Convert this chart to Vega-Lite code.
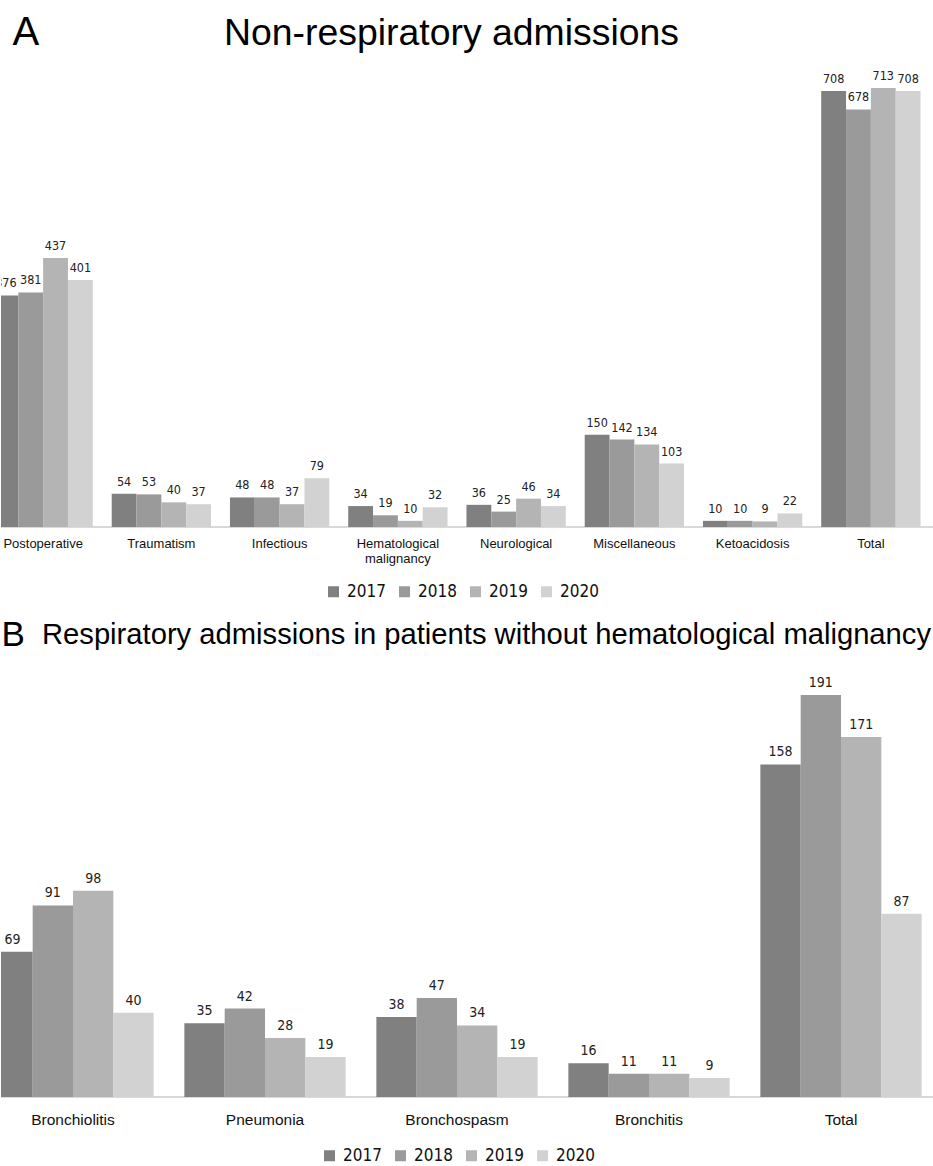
{
  "$schema": "https://vega.github.io/schema/vega-lite/v6.json",
  "background": "white",
  "padding": {"top": 12, "left": 0, "right": 0, "bottom": 0},
  "bounds": "flush",
  "spacing": 149,
  "config": {
    "view": {"stroke": null},
    "axis": {"grid": false},
    "legend": {
      "orient": "none",
      "direction": "horizontal",
      "title": null,
      "labelFont": "DejaVu Sans Condensed, sans-serif",
      "labelFontSize": 17,
      "labelColor": "#111111",
      "symbolType": "square",
      "symbolSize": 121,
      "symbolStrokeWidth": 0,
      "labelOffset": 5,
      "columnPadding": 10
    }
  },
  "datasets": {
    "nonresp": [
      {"category": "Postoperative", "year": "2017", "value": 376},
      {"category": "Postoperative", "year": "2018", "value": 381},
      {"category": "Postoperative", "year": "2019", "value": 437},
      {"category": "Postoperative", "year": "2020", "value": 401},
      {"category": "Traumatism", "year": "2017", "value": 54},
      {"category": "Traumatism", "year": "2018", "value": 53},
      {"category": "Traumatism", "year": "2019", "value": 40},
      {"category": "Traumatism", "year": "2020", "value": 37},
      {"category": "Infectious", "year": "2017", "value": 48},
      {"category": "Infectious", "year": "2018", "value": 48},
      {"category": "Infectious", "year": "2019", "value": 37},
      {"category": "Infectious", "year": "2020", "value": 79},
      {"category": "Hematological malignancy", "year": "2017", "value": 34},
      {"category": "Hematological malignancy", "year": "2018", "value": 19},
      {"category": "Hematological malignancy", "year": "2019", "value": 10},
      {"category": "Hematological malignancy", "year": "2020", "value": 32},
      {"category": "Neurological", "year": "2017", "value": 36},
      {"category": "Neurological", "year": "2018", "value": 25},
      {"category": "Neurological", "year": "2019", "value": 46},
      {"category": "Neurological", "year": "2020", "value": 34},
      {"category": "Miscellaneous", "year": "2017", "value": 150},
      {"category": "Miscellaneous", "year": "2018", "value": 142},
      {"category": "Miscellaneous", "year": "2019", "value": 134},
      {"category": "Miscellaneous", "year": "2020", "value": 103},
      {"category": "Ketoacidosis", "year": "2017", "value": 10},
      {"category": "Ketoacidosis", "year": "2018", "value": 10},
      {"category": "Ketoacidosis", "year": "2019", "value": 9},
      {"category": "Ketoacidosis", "year": "2020", "value": 22},
      {"category": "Total", "year": "2017", "value": 708},
      {"category": "Total", "year": "2018", "value": 678},
      {"category": "Total", "year": "2019", "value": 713},
      {"category": "Total", "year": "2020", "value": 708}
    ],
    "resp": [
      {"category": "Bronchiolitis", "year": "2017", "value": 69},
      {"category": "Bronchiolitis", "year": "2018", "value": 91},
      {"category": "Bronchiolitis", "year": "2019", "value": 98},
      {"category": "Bronchiolitis", "year": "2020", "value": 40},
      {"category": "Pneumonia", "year": "2017", "value": 35},
      {"category": "Pneumonia", "year": "2018", "value": 42},
      {"category": "Pneumonia", "year": "2019", "value": 28},
      {"category": "Pneumonia", "year": "2020", "value": 19},
      {"category": "Bronchospasm", "year": "2017", "value": 38},
      {"category": "Bronchospasm", "year": "2018", "value": 47},
      {"category": "Bronchospasm", "year": "2019", "value": 34},
      {"category": "Bronchospasm", "year": "2020", "value": 19},
      {"category": "Bronchitis", "year": "2017", "value": 16},
      {"category": "Bronchitis", "year": "2018", "value": 11},
      {"category": "Bronchitis", "year": "2019", "value": 11},
      {"category": "Bronchitis", "year": "2020", "value": 9},
      {"category": "Total", "year": "2017", "value": 158},
      {"category": "Total", "year": "2018", "value": 191},
      {"category": "Total", "year": "2019", "value": 171},
      {"category": "Total", "year": "2020", "value": 87}
    ]
  },
  "resolve": {"scale": {"x": "independent", "y": "independent", "xOffset": "independent", "color": "independent"}},
  "vconcat": [
    {
      "width": 933,
      "height": 468,
      "data": {"name": "nonresp"},
      "layer": [
        {
          "mark": {"type": "rule", "color": "#d9d9d9", "strokeWidth": 1.5},
          "encoding": {"y": {"datum": 0, "type": "quantitative", "scale": {"domain": [0, 760], "nice": false}}}
        },
        {
          "mark": {"type": "bar", "clip": true},
          "encoding": {
            "x": {
              "field": "category", "type": "nominal", "sort": null,
              "scale": {"range": [-17, 929], "paddingInner": 0.16, "paddingOuter": 0.08},
              "axis": {
                "labelAngle": 0, "ticks": false, "domain": false,
                "labelFont": "Liberation Sans", "labelFontSize": 13, "labelColor": "#111111",
                "labelPadding": 10, "labelBaseline": "top", "labelLineHeight": 15,
                "labelExpr": "datum.label == 'Hematological malignancy' ? ['Hematological', 'malignancy'] : datum.label",
                "title": "Non-respiratory admissions",
                "titleFont": "Liberation Sans", "titleFontSize": 37.4, "titleFontWeight": "normal", "titleColor": "#000000",
                "titleX": 450, "titleY": -483, "titleAlign": "center", "titleBaseline": "alphabetic", "titleAnchor": null
              }
            },
            "xOffset": {"field": "year", "type": "nominal", "scale": {"paddingInner": 0}},
            "y": {
              "field": "value", "type": "quantitative", "scale": {"domain": [0, 760], "nice": false},
              "axis": {
                "labels": false, "ticks": false, "domain": false,
                "title": "A", "titleAngle": 0, "titleAlign": "left", "titleBaseline": "alphabetic",
                "titleX": 11, "titleY": -15, "titleFont": "Liberation Sans", "titleFontSize": 40,
                "titleFontWeight": "normal", "titleColor": "#000000"
              }
            },
            "color": {
              "field": "year", "type": "nominal",
              "scale": {"domain": ["2017", "2018", "2019", "2020"], "range": ["#808080", "#9a9a9a", "#b4b4b4", "#d2d2d2"]},
              "legend": {"legendX": 324, "legendY": 524}
            }
          }
        },
        {
          "mark": {"type": "text", "clip": true, "baseline": "alphabetic", "dy": -8, "font": "DejaVu Sans Condensed, sans-serif", "fontSize": 12.5, "color": "#222222"},
          "encoding": {
            "x": {"field": "category", "type": "nominal", "sort": null},
            "xOffset": {"field": "year", "type": "nominal"},
            "y": {"field": "value", "type": "quantitative"},
            "text": {"field": "value", "type": "quantitative"}
          }
        }
      ]
    },
    {
      "width": 933,
      "height": 421,
      "data": {"name": "resp"},
      "layer": [
        {
          "mark": {"type": "rule", "color": "#d9d9d9", "strokeWidth": 1.5},
          "encoding": {"y": {"datum": 0, "type": "quantitative", "scale": {"domain": [0, 200], "nice": false}}}
        },
        {
          "mark": {"type": "bar", "clip": true},
          "encoding": {
            "x": {
              "field": "category", "type": "nominal", "sort": null,
              "scale": {"range": [-24, 936], "paddingInner": 0.16, "paddingOuter": 0.08},
              "axis": {
                "labelAngle": 0, "ticks": false, "domain": false,
                "labelFont": "Liberation Sans", "labelFontSize": 15.5, "labelColor": "#111111",
                "labelPadding": 15, "labelBaseline": "top",
                "title": "Respiratory admissions in patients without hematological malignancy",
                "titleFont": "Liberation Sans", "titleFontSize": 29.2, "titleFontWeight": "normal", "titleColor": "#000000",
                "titleX": 485, "titleY": -454, "titleAlign": "center", "titleBaseline": "alphabetic", "titleAnchor": null
              }
            },
            "xOffset": {"field": "year", "type": "nominal", "scale": {"paddingInner": 0}},
            "y": {
              "field": "value", "type": "quantitative", "scale": {"domain": [0, 200], "nice": false},
              "axis": {
                "labels": false, "ticks": false, "domain": false,
                "title": "B", "titleAngle": 0, "titleAlign": "left", "titleBaseline": "alphabetic",
                "titleX": 0, "titleY": -31, "titleFont": "Liberation Sans", "titleFontSize": 35,
                "titleFontWeight": "normal", "titleColor": "#000000"
              }
            },
            "color": {
              "field": "year", "type": "nominal",
              "scale": {"domain": ["2017", "2018", "2019", "2020"], "range": ["#808080", "#9a9a9a", "#b4b4b4", "#d2d2d2"]},
              "legend": {"legendX": 320, "legendY": 471}
            }
          }
        },
        {
          "mark": {"type": "text", "clip": true, "baseline": "alphabetic", "dy": -8, "font": "DejaVu Sans Condensed, sans-serif", "fontSize": 14, "color": "#222222"},
          "encoding": {
            "x": {"field": "category", "type": "nominal", "sort": null},
            "xOffset": {"field": "year", "type": "nominal"},
            "y": {"field": "value", "type": "quantitative"},
            "text": {"field": "value", "type": "quantitative"}
          }
        }
      ]
    }
  ]
}
